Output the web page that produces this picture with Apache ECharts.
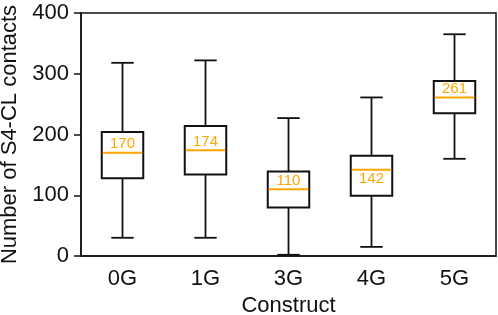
<!DOCTYPE html>
<html>
<head>
<meta charset="utf-8">
<script src="https://cdn.jsdelivr.net/npm/echarts@6/dist/echarts.min.js"></script>
<style>
  html, body { margin: 0; padding: 0; background: #fff; }
  #chart { width: 498px; height: 315px; }
</style>
</head>
<body>
<div id="chart"></div>
<script>
// box plot values
var categories = ['0G', '1G', '3G', '4G', '5G'];
var whiskerLow = [30, 30, 2, 15, 160];
var q1 = [128, 134, 80, 99, 235];
var median = [170, 174, 110, 142, 261];
var q3 = [204, 214, 139, 165, 288];
var whiskerHigh = [318, 322, 227, 261, 365];
var yTicks = [0, 100, 200, 300, 400];

var seriesData = [];
for (var i = 0; i < categories.length; i++) {
    seriesData.push([i, whiskerLow[i], q1[i], median[i], q3[i], whiskerHigh[i]]);
}

var ink = '#111';
var orange = '#FFA500';

function renderBox(params, api) {
    var idx = api.value(0);
    var band = api.size([1, 0])[0];
    var boxW = band * 0.5;
    var capW = band * 0.27;
    var pLow = api.coord([idx, api.value(1)]);
    var pQ1 = api.coord([idx, api.value(2)]);
    var pMed = api.coord([idx, api.value(3)]);
    var pQ3 = api.coord([idx, api.value(4)]);
    var pHigh = api.coord([idx, api.value(5)]);
    var x = pMed[0];
    var lineStyle = { stroke: ink, lineWidth: 1.8, fill: null };

    // 中位数标签放在线上方，空间不够时放下方
    var roomAbove = pMed[1] - pQ3[1];
    var above = roomAbove > 15;

    return {
        type: 'group',
        children: [
            { type: 'line', shape: { x1: x, y1: pHigh[1], x2: x, y2: pQ3[1] }, style: lineStyle },
            { type: 'line', shape: { x1: x, y1: pQ1[1], x2: x, y2: pLow[1] }, style: lineStyle },
            { type: 'line', shape: { x1: x - capW / 2, y1: pHigh[1], x2: x + capW / 2, y2: pHigh[1] }, style: lineStyle },
            { type: 'line', shape: { x1: x - capW / 2, y1: pLow[1], x2: x + capW / 2, y2: pLow[1] }, style: lineStyle },
            {
                type: 'rect',
                shape: { x: x - boxW / 2, y: pQ3[1], width: boxW, height: pQ1[1] - pQ3[1] },
                style: { stroke: ink, lineWidth: 2, fill: '#fff' }
            },
            {
                type: 'line',
                shape: { x1: x - boxW / 2 + 1, y1: pMed[1], x2: x + boxW / 2 - 1, y2: pMed[1] },
                style: { stroke: orange, lineWidth: 2 }
            },
            {
                type: 'text',
                style: {
                    x: x,
                    y: above ? pMed[1] - 1 : pMed[1] + 2,
                    text: String(api.value(3)),
                    fill: orange,
                    font: '15px "Liberation Sans", Arial, sans-serif',
                    align: 'center',
                    verticalAlign: above ? 'bottom' : 'top'
                }
            }
        ]
    };
}

var chart = echarts.init(document.getElementById('chart'), null, { renderer: 'canvas' });

var option = {
    animation: false,
    backgroundColor: '#fff',
    textStyle: { fontFamily: '"Liberation Sans", Arial, sans-serif' },
    grid: {
        left: 81, right: 2, top: 13, bottom: 59,
        containLabel: false,
        outerBoundsMode: 'none',
        show: true, borderColor: ink, borderWidth: 1.5, backgroundColor: 'transparent'
    },
    xAxis: {
        type: 'category',
        data: categories,
        name: 'Construct',
        nameLocation: 'middle',
        nameGap: 38,
        nameTextStyle: { fontSize: 22, color: ink },
        axisLine: { lineStyle: { color: ink, width: 1.5 } },
        axisTick: { alignWithLabel: true, length: 6, lineStyle: { color: ink, width: 1.5 } },
        axisLabel: { fontSize: 22, color: ink, margin: 12 },
        splitLine: { show: false }
    },
    yAxis: {
        type: 'value',
        min: yTicks[0],
        max: yTicks[yTicks.length - 1],
        interval: 100,
        name: 'Number of S4-CL contacts',
        nameLocation: 'middle',
        nameGap: 57,
        nameTextStyle: { fontSize: 22, color: ink },
        axisLine: { show: true, lineStyle: { color: ink, width: 1.5 } },
        axisTick: { show: true, length: 7, lineStyle: { color: ink, width: 1.5 } },
        axisLabel: { fontSize: 22, color: ink, margin: 12 },
        splitLine: { show: false }
    },
    series: [{
        type: 'custom',
        renderItem: renderBox,
        data: seriesData,
        encode: { x: 0, y: [1, 2, 3, 4, 5] },
        clip: false
    }]
};

chart.setOption(option);
</script>
</body>
</html>
